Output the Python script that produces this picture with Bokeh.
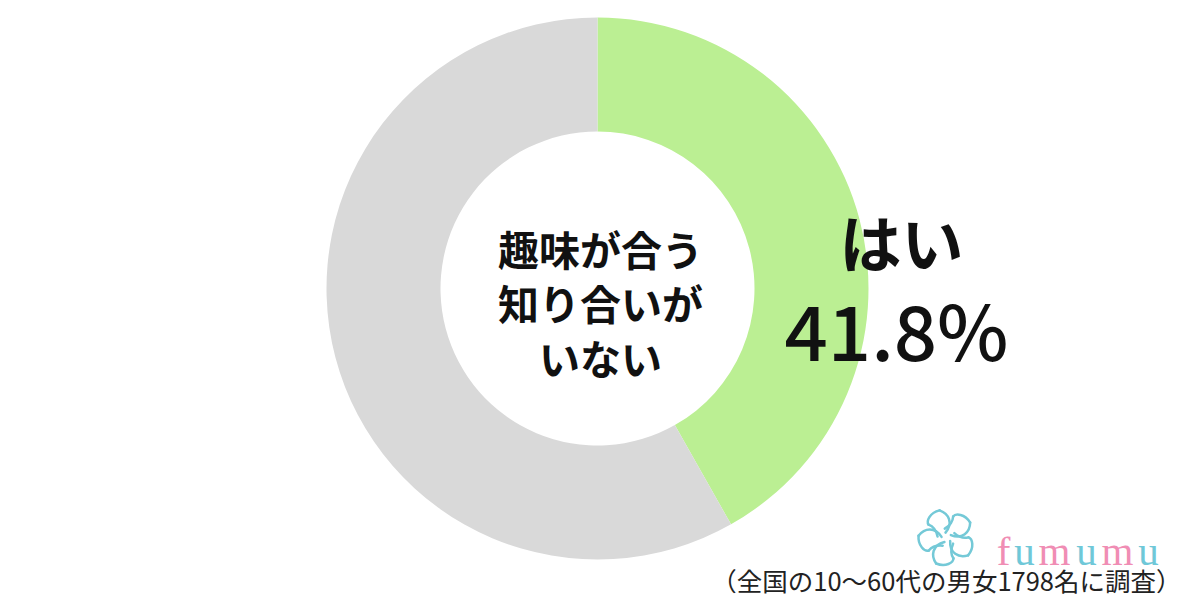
import math
from bokeh.plotting import figure
from bokeh.models import Range1d, ColumnDataSource
from bokeh.core.properties import value
from bokeh.embed import file_html
from bokeh.resources import INLINE

# ---- data ----
categories = ["はい", "いいえ"]
percents = [41.8, 58.2]
colors = ["#bbef93", "#d9d9d9"]
center_lines = ["趣味が合う", "知り合いが", "いない"]
answer_label = "はい"
answer_value = "41.8%"
footnote = "（全国の10～60代の男女1798名に調査）"
brand = ["f", "u", "m", "u", "m", "u"]
brand_colors = ["#f08db4", "#6fc8d8", "#f08db4", "#6fc8d8", "#f08db4", "#6fc8d8"]

W, H = 1200, 600
p = figure(width=W, height=H, output_backend="svg", toolbar_location=None,
           x_range=Range1d(0, W), y_range=Range1d(600 - H, 600),
           min_border=0)
p.axis.visible = False
p.grid.visible = False
p.outline_line_color = None
p.background_fill_color = "white"
p.border_fill_color = "white"

def Y(ry):
    return 600 - ry

cx, cy = 597, Y(288)
total = sum(percents)
starts, ends = [], []
acc = 0.0
for v in percents:
    a0 = math.pi / 2 - 2 * math.pi * acc / total
    acc += v
    a1 = math.pi / 2 - 2 * math.pi * acc / total
    starts.append(a0)
    ends.append(a1)

src = ColumnDataSource(dict(start=starts, end=ends, color=colors, cat=categories))
p.annular_wedge(x=cx, y=cy, inner_radius=157, outer_radius=271,
                start_angle="start", end_angle="end", direction="clock",
                fill_color="color", line_color=None, source=src)

jp = value("Noto Sans CJK JP")
line_y = [247, 301, 356]
p.text(x=[600] * 3, y=[Y(v) for v in line_y], text=center_lines,
       text_font=jp, text_font_size="41px", text_font_style="bold",
       text_align="center", text_baseline="middle", text_color="#111111")

p.text(x=[901], y=[Y(240)], text=[answer_label], text_font=jp,
       text_font_size="62px", text_font_style="bold",
       text_align="center", text_baseline="middle", text_color="#111111")
p.text(x=[896], y=[Y(327)], text=[answer_value],
       text_font=value("Noto Sans CJK JP Medium"),
       text_font_size="76px", text_font_style="normal",
       text_align="center", text_baseline="middle", text_color="#111111")

p.text(x=[1181], y=[Y(579)], text=[footnote], text_font=jp,
       text_font_size="25.5px", text_align="right", text_baseline="middle",
       text_color="#222222")

# brand text (letter centres)
bxs = [1003, 1024, 1054, 1086, 1117, 1148]
p.text(x=bxs, y=[Y(550)] * len(brand),
       text=brand, text_color=brand_colors, text_font=value("Liberation Serif"),
       text_font_size="41px", text_align="center", text_baseline="alphabetic")

# flower logo (decoration): pinwheel of thin curled ribbons
lx, ly = 946, Y(537)
x0s, y0s, x1s, y1s, cx0, cy0, cx1, cy1 = [], [], [], [], [], [], [], []
def add(a, b, c0, c1):
    x0s.append(a[0]); y0s.append(a[1]); x1s.append(b[0]); y1s.append(b[1])
    cx0.append(c0[0]); cy0.append(c0[1]); cx1.append(c1[0]); cy1.append(c1[1])
for k in range(5):
    th = math.radians(90 + 72 * k)
    def rot(r, a):
        return lx + r * math.cos(th + a), ly + r * math.sin(th + a)
    add(rot(5, 0.2), rot(28, 0.25), rot(16, -0.45), rot(24, -0.1))
    add(rot(28, 0.25), rot(22, 0.95), rot(30, 0.6), rot(26, 0.9))
    add(rot(22, 0.95), rot(9, 1.45), rot(16, 0.85), rot(11, 1.1))
p.bezier(x0=x0s, y0=y0s, x1=x1s, y1=y1s, cx0=cx0, cy0=cy0, cx1=cx1, cy1=cy1,
         line_color="#74c9d7", line_width=2.5, line_cap="round")

open("out.html", "w").write(file_html(p, INLINE))
